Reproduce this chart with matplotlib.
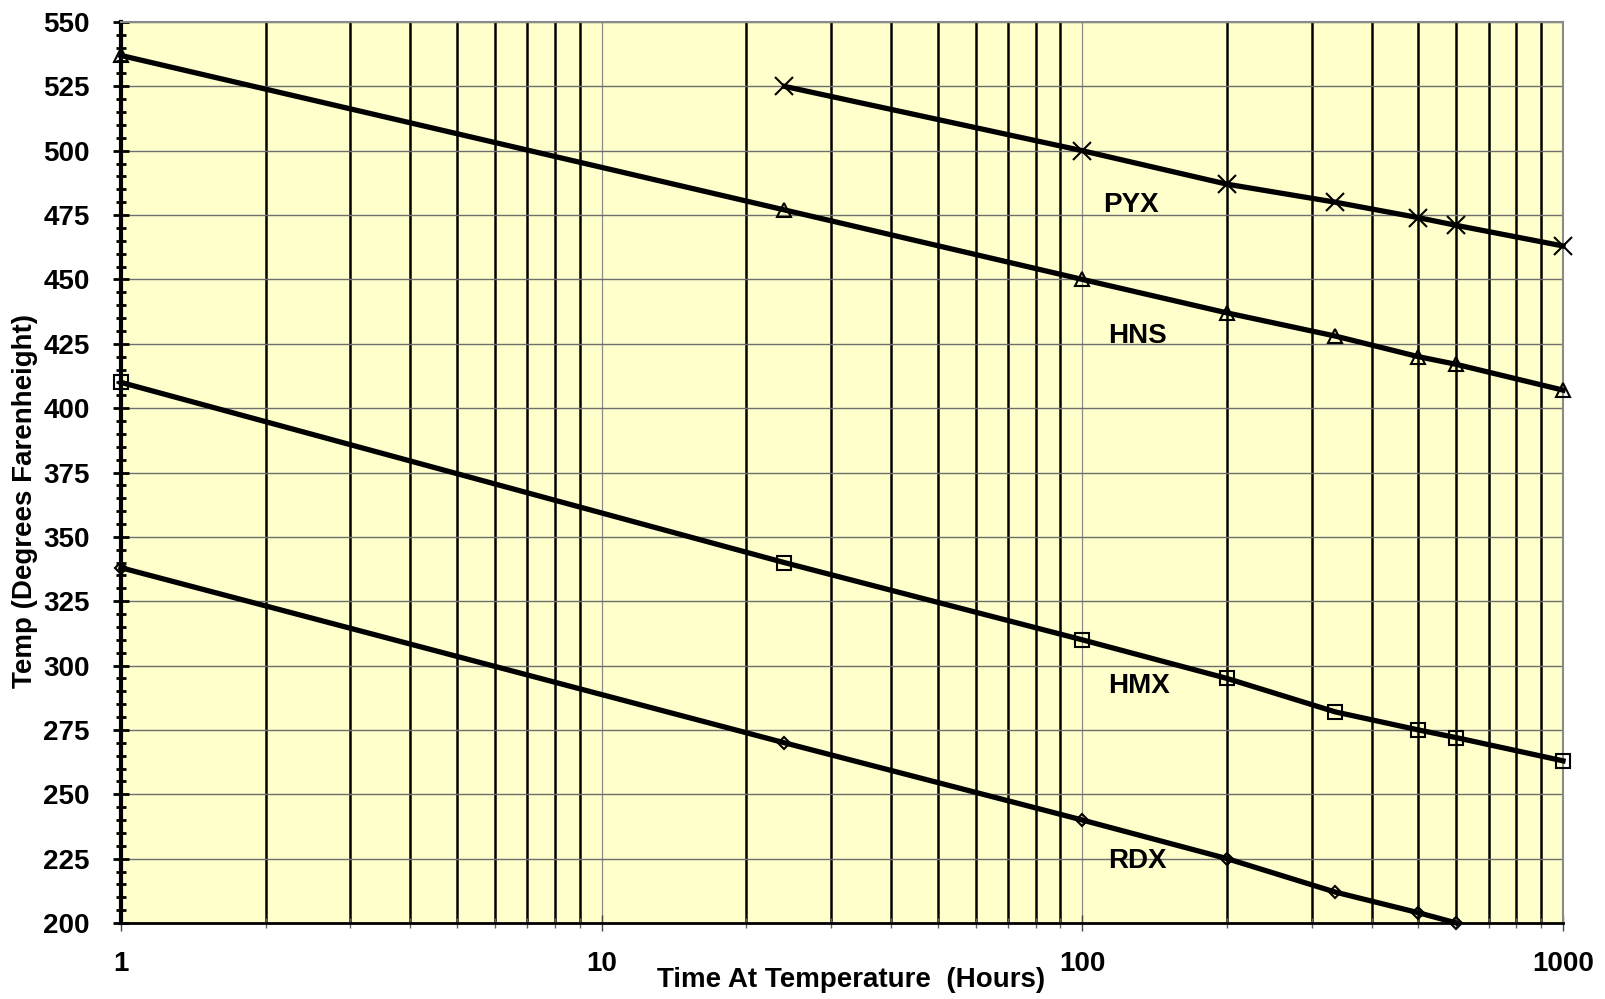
import matplotlib
matplotlib.use("Agg")
import matplotlib.pyplot as plt
from matplotlib.ticker import FixedLocator, NullFormatter, LogLocator, FixedFormatter

plt.rcParams['font.family'] = ['Liberation Sans', 'DejaVu Sans']
plt.rcParams['font.weight'] = 'bold'

# Data
pyx_hours = [24, 100, 200, 336, 500, 600, 1000]
pyx_temp = [525, 500, 487, 480, 474, 471, 463]

hns_hours = [1, 24, 100, 200, 336, 500, 600, 1000]
hns_temp = [537, 477, 450, 437, 428, 420, 417, 407]

hmx_hours = [1, 24, 100, 200, 336, 500, 600, 1000]
hmx_temp = [410, 340, 310, 295, 282, 275, 272, 263]

rdx_hours = [1, 24, 100, 200, 336, 500, 600]
rdx_temp = [338, 270, 240, 225, 212, 204, 200]

series_names = ["PYX", "HNS", "HMX", "RDX"]
label_pos_x = [126, 130, 131, 130]
label_pos_y = [479, 428, 292, 224]

x_ticks = [1, 10, 100, 1000]
x_ticklabels = ["1", "10", "100", "1000"]
y_ticks = list(range(200, 551, 25))

fig = plt.figure(figsize=(16.06, 9.99), dpi=100)
ax = fig.add_axes([121/1606, 1-923/999, (1563-121)/1606, (923-22)/999])
ax.set_facecolor('#FFFFCC')

line_kw = dict(color='black', lw=3.8, markerfacecolor='none', markeredgecolor='black',
               markeredgewidth=1.5, zorder=3, clip_on=False)
ax.plot(pyx_hours, pyx_temp, marker='x', ms=13, **line_kw)
ax.plot(hns_hours, hns_temp, marker='^', ms=9.5, **line_kw)
ax.plot(hmx_hours, hmx_temp, marker='s', ms=9.5, **line_kw)
ax.plot(rdx_hours, rdx_temp, marker='D', ms=6.5, **line_kw)

for name, lx, ly in zip(series_names, label_pos_x, label_pos_y):
    ax.text(lx, ly, name, fontsize=20, fontweight='bold', ha='center', va='center', zorder=4)

ax.set_xscale('log')
ax.set_xlim(1, 1000)
ax.set_ylim(200, 550)

ax.xaxis.set_major_locator(FixedLocator(x_ticks))
ax.xaxis.set_major_formatter(FixedFormatter(x_ticklabels))
ax.xaxis.set_minor_locator(LogLocator(base=10, subs=range(2, 10)))
ax.xaxis.set_minor_formatter(NullFormatter())
ax.yaxis.set_major_locator(FixedLocator(y_ticks))
ax.yaxis.set_minor_locator(FixedLocator(list(range(200, 551, 5))))

ax.set_axisbelow(True)
ax.grid(which='major', axis='y', color='#6e6e6e', lw=1.0)
ax.grid(which='major', axis='x', color='#8a8a8a', lw=0.9)
ax.grid(which='minor', axis='x', color='black', lw=1.8)

ax.tick_params(axis='both', which='major', direction='inout', length=11, width=2,
               labelsize=20, colors='black')
ax.tick_params(axis='both', which='minor', direction='inout', length=7, width=2)
ax.tick_params(axis='x', which='major', pad=15, width=1, color='#444444')
ax.tick_params(axis='x', which='minor', width=1, color='#666666')
ax.tick_params(axis='y', which='major', pad=17)
for lab in ax.get_xticklabels() + ax.get_yticklabels():
    lab.set_fontweight('bold')

ax.spines['left'].set_linewidth(3)
ax.spines['left'].set_color('black')
ax.spines['bottom'].set_linewidth(2)
ax.spines['bottom'].set_color('black')
ax.spines['top'].set_color('#8a8a8a')
ax.spines['top'].set_linewidth(1.5)
ax.spines['right'].set_color('#8a8a8a')
ax.spines['right'].set_linewidth(1.5)

ax.set_xlabel('Time At Temperature  (Hours)', fontsize=20, fontweight='bold', va='center')
ax.xaxis.set_label_coords((851-121)/1442, -(980-923)/901)
ax.set_ylabel('Temp (Degrees Farenheight)', fontsize=20, fontweight='bold', va='center')
ax.yaxis.set_label_coords(-(121-25)/1442, (923-501)/901)

fig.savefig('out.png', dpi=100)
